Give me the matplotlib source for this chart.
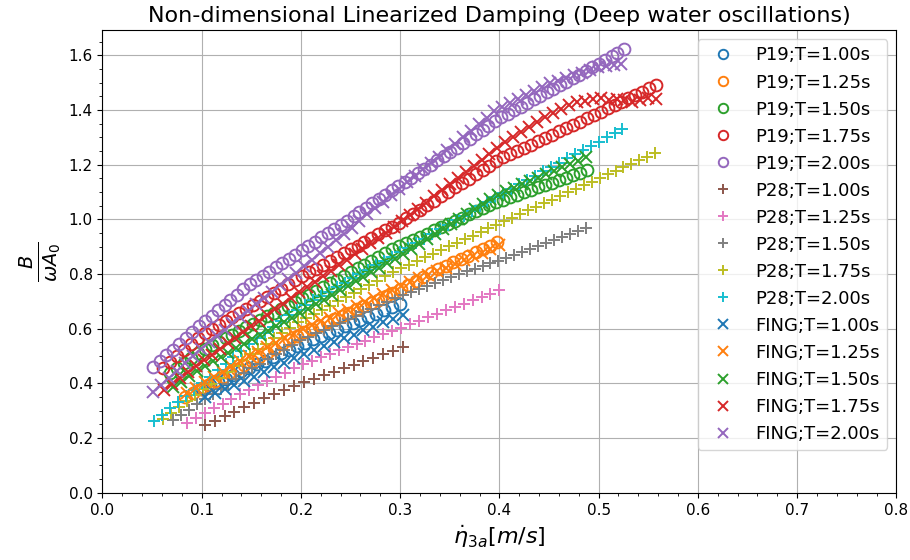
#!/usr/bin/env python3
"""
Non-dimensional linearized damping (deep water oscillations).

Compares the P19, P28 and FING data sets for five oscillation periods.
Saves the figure to out.png.
"""

import matplotlib
matplotlib.use('Agg')
import matplotlib.pyplot as plt

periods = ['1.00', '1.25', '1.50', '1.75', '2.00']

# ---------------------------------------------------------------- P19 (circles)
p19_x_100 = [0.100, 0.108, 0.116, 0.124, 0.132, 0.140, 0.148, 0.156, 0.164, 0.172, 0.180, 0.188, 0.196,
             0.204, 0.212, 0.220, 0.228, 0.236, 0.244, 0.252, 0.260, 0.268, 0.276, 0.284, 0.292, 0.300]
p19_y_100 = [0.380, 0.393, 0.406, 0.418, 0.431, 0.444, 0.457, 0.470, 0.483, 0.497, 0.510, 0.523, 0.536,
             0.549, 0.561, 0.573, 0.585, 0.597, 0.609, 0.620, 0.632, 0.644, 0.655, 0.667, 0.678, 0.690]

p19_x_125 = [0.083, 0.091, 0.098, 0.106, 0.113, 0.121, 0.128, 0.136, 0.143, 0.151, 0.158, 0.166, 0.173,
             0.181, 0.188, 0.196, 0.203, 0.211, 0.218, 0.226, 0.233, 0.241, 0.248, 0.256, 0.263, 0.271,
             0.278, 0.286, 0.293, 0.301, 0.308, 0.316, 0.323, 0.331, 0.338, 0.346, 0.353, 0.361, 0.368,
             0.376, 0.383, 0.391, 0.398]
p19_y_125 = [0.350, 0.365, 0.379, 0.394, 0.408, 0.423, 0.437, 0.452, 0.466, 0.481, 0.496, 0.512, 0.527,
             0.543, 0.559, 0.575, 0.587, 0.599, 0.611, 0.623, 0.635, 0.647, 0.659, 0.671, 0.684, 0.695,
             0.707, 0.719, 0.731, 0.746, 0.760, 0.774, 0.789, 0.803, 0.817, 0.831, 0.844, 0.856, 0.868,
             0.880, 0.892, 0.904, 0.916]

p19_x_150 = [0.068, 0.075, 0.082, 0.089, 0.096, 0.103, 0.110, 0.117, 0.124, 0.131, 0.138, 0.145, 0.152,
             0.159, 0.166, 0.173, 0.180, 0.187, 0.194, 0.201, 0.208, 0.215, 0.222, 0.229, 0.236, 0.243,
             0.250, 0.257, 0.264, 0.271, 0.278, 0.285, 0.292, 0.299, 0.306, 0.313, 0.320, 0.327, 0.334,
             0.341, 0.348, 0.355, 0.362, 0.369, 0.376, 0.383, 0.390, 0.397, 0.404, 0.411, 0.418, 0.425,
             0.432, 0.439, 0.446, 0.453, 0.460, 0.467, 0.474, 0.481, 0.488]
p19_y_150 = [0.440, 0.458, 0.476, 0.494, 0.512, 0.525, 0.539, 0.552, 0.565, 0.578, 0.592, 0.605, 0.618,
             0.632, 0.645, 0.658, 0.672, 0.685, 0.698, 0.712, 0.725, 0.739, 0.753, 0.767, 0.780, 0.794,
             0.808, 0.821, 0.835, 0.849, 0.862, 0.876, 0.890, 0.902, 0.913, 0.925, 0.937, 0.948, 0.960,
             0.971, 0.983, 0.995, 1.006, 1.018, 1.030, 1.041, 1.053, 1.063, 1.072, 1.081, 1.090, 1.099,
             1.108, 1.117, 1.126, 1.135, 1.144, 1.153, 1.162, 1.171, 1.180]

p19_x_175 = [0.061, 0.068, 0.075, 0.082, 0.089, 0.096, 0.103, 0.110, 0.117, 0.124, 0.131, 0.138, 0.145,
             0.152, 0.159, 0.166, 0.173, 0.180, 0.187, 0.194, 0.201, 0.208, 0.215, 0.222, 0.229, 0.236,
             0.243, 0.250, 0.257, 0.264, 0.271, 0.278, 0.285, 0.292, 0.299, 0.306, 0.313, 0.320, 0.327,
             0.334, 0.341, 0.348, 0.355, 0.362, 0.369, 0.376, 0.383, 0.390, 0.397, 0.404, 0.411, 0.418,
             0.425, 0.432, 0.439, 0.446, 0.453, 0.460, 0.467, 0.474, 0.481, 0.488, 0.495, 0.502, 0.509,
             0.516, 0.523, 0.530, 0.537, 0.544, 0.551, 0.558]
p19_y_175 = [0.455, 0.477, 0.500, 0.522, 0.545, 0.567, 0.586, 0.600, 0.614, 0.629, 0.643, 0.657, 0.672,
             0.686, 0.701, 0.716, 0.731, 0.746, 0.762, 0.777, 0.792, 0.806, 0.820, 0.834, 0.848, 0.862,
             0.876, 0.890, 0.904, 0.918, 0.932, 0.946, 0.960, 0.974, 0.988, 1.004, 1.020, 1.036, 1.052,
             1.068, 1.084, 1.100, 1.117, 1.133, 1.149, 1.165, 1.181, 1.197, 1.213, 1.227, 1.239, 1.251,
             1.263, 1.274, 1.286, 1.298, 1.310, 1.322, 1.334, 1.346, 1.358, 1.370, 1.382, 1.394, 1.406,
             1.418, 1.431, 1.443, 1.455, 1.467, 1.479, 1.491]

p19_x_200 = [0.051, 0.058, 0.064, 0.071, 0.077, 0.084, 0.090, 0.097, 0.103, 0.110, 0.116, 0.123, 0.129,
             0.136, 0.142, 0.149, 0.155, 0.162, 0.168, 0.175, 0.181, 0.188, 0.194, 0.201, 0.207, 0.214,
             0.220, 0.227, 0.233, 0.240, 0.246, 0.253, 0.259, 0.266, 0.272, 0.279, 0.285, 0.292, 0.298,
             0.305, 0.311, 0.318, 0.324, 0.331, 0.337, 0.344, 0.350, 0.357, 0.363, 0.370, 0.376, 0.383,
             0.389, 0.396, 0.402, 0.409, 0.415, 0.422, 0.428, 0.435, 0.441, 0.448, 0.454, 0.461, 0.467,
             0.474, 0.480, 0.487, 0.493, 0.500, 0.506, 0.513, 0.519, 0.526]
p19_y_200 = [0.460, 0.481, 0.503, 0.524, 0.545, 0.567, 0.588, 0.609, 0.629, 0.648, 0.667, 0.687, 0.706,
             0.725, 0.744, 0.764, 0.779, 0.794, 0.809, 0.825, 0.840, 0.856, 0.871, 0.887, 0.903, 0.918,
             0.934, 0.950, 0.965, 0.981, 0.996, 1.012, 1.028, 1.043, 1.059, 1.074, 1.090, 1.106, 1.121,
             1.137, 1.152, 1.168, 1.184, 1.200, 1.216, 1.232, 1.248, 1.263, 1.279, 1.295, 1.311, 1.327,
             1.343, 1.359, 1.374, 1.387, 1.400, 1.413, 1.426, 1.439, 1.452, 1.465, 1.478, 1.491, 1.504,
             1.517, 1.530, 1.543, 1.556, 1.569, 1.583, 1.596, 1.610, 1.624]

# ---------------------------------------------------------------- P28 (plus)
p28_x_100 = [0.103, 0.113, 0.123, 0.133, 0.143, 0.153, 0.163, 0.173, 0.183, 0.193, 0.203, 0.213, 0.223,
             0.233, 0.243, 0.253, 0.263, 0.273, 0.283, 0.293, 0.303]
p28_y_100 = [0.248, 0.264, 0.281, 0.297, 0.314, 0.330, 0.345, 0.361, 0.376, 0.392, 0.405, 0.418, 0.430,
             0.443, 0.456, 0.469, 0.482, 0.494, 0.507, 0.520, 0.533]

p28_x_125 = [0.085, 0.094, 0.103, 0.112, 0.121, 0.130, 0.139, 0.148, 0.157, 0.166, 0.175, 0.184, 0.193,
             0.202, 0.211, 0.220, 0.229, 0.238, 0.247, 0.256, 0.265, 0.274, 0.283, 0.292, 0.301, 0.310,
             0.319, 0.328, 0.337, 0.346, 0.355, 0.364, 0.373, 0.382, 0.391, 0.400]
p28_y_125 = [0.255, 0.273, 0.291, 0.309, 0.326, 0.343, 0.360, 0.377, 0.394, 0.409, 0.424, 0.440, 0.455,
             0.470, 0.483, 0.496, 0.508, 0.521, 0.534, 0.546, 0.557, 0.569, 0.581, 0.592, 0.604, 0.617,
             0.629, 0.642, 0.654, 0.667, 0.680, 0.692, 0.704, 0.716, 0.728, 0.740]

p28_x_150 = [0.071, 0.079, 0.087, 0.095, 0.103, 0.111, 0.119, 0.127, 0.135, 0.143, 0.151, 0.159, 0.167,
             0.175, 0.183, 0.191, 0.199, 0.207, 0.215, 0.223, 0.231, 0.239, 0.247, 0.255, 0.263, 0.271,
             0.279, 0.287, 0.295, 0.303, 0.311, 0.319, 0.327, 0.335, 0.343, 0.351, 0.359, 0.367, 0.375,
             0.383, 0.391, 0.399, 0.407, 0.415, 0.423, 0.431, 0.439, 0.447, 0.455, 0.463, 0.471, 0.479,
             0.487]
p28_y_150 = [0.265, 0.284, 0.304, 0.323, 0.342, 0.361, 0.380, 0.399, 0.418, 0.438, 0.455, 0.472, 0.489,
             0.506, 0.523, 0.541, 0.558, 0.571, 0.584, 0.597, 0.610, 0.622, 0.635, 0.648, 0.661, 0.674,
             0.687, 0.699, 0.712, 0.724, 0.735, 0.747, 0.758, 0.769, 0.780, 0.791, 0.801, 0.810, 0.820,
             0.830, 0.840, 0.849, 0.859, 0.870, 0.881, 0.892, 0.903, 0.914, 0.926, 0.937, 0.948, 0.959,
             0.970]

p28_x_175 = [0.061, 0.069, 0.077, 0.085, 0.093, 0.101, 0.109, 0.117, 0.125, 0.133, 0.141, 0.149, 0.157,
             0.165, 0.173, 0.181, 0.189, 0.197, 0.205, 0.213, 0.221, 0.229, 0.237, 0.245, 0.253, 0.261,
             0.269, 0.277, 0.285, 0.293, 0.301, 0.309, 0.317, 0.325, 0.333, 0.341, 0.349, 0.357, 0.365,
             0.373, 0.381, 0.389, 0.397, 0.405, 0.413, 0.421, 0.429, 0.437, 0.445, 0.453, 0.461, 0.469,
             0.477, 0.485, 0.493, 0.501, 0.509, 0.517, 0.525, 0.533, 0.541, 0.549, 0.557]
p28_y_175 = [0.270, 0.292, 0.313, 0.335, 0.356, 0.378, 0.399, 0.421, 0.443, 0.464, 0.486, 0.507, 0.527,
             0.546, 0.565, 0.584, 0.604, 0.623, 0.640, 0.655, 0.670, 0.685, 0.700, 0.716, 0.731, 0.746,
             0.761, 0.776, 0.792, 0.807, 0.822, 0.835, 0.848, 0.861, 0.874, 0.888, 0.901, 0.914, 0.927,
             0.940, 0.954, 0.967, 0.980, 0.993, 1.006, 1.020, 1.033, 1.046, 1.059, 1.072, 1.086, 1.099,
             1.112, 1.125, 1.138, 1.152, 1.165, 1.178, 1.191, 1.204, 1.217, 1.230, 1.243]

p28_x_200 = [0.052, 0.060, 0.068, 0.076, 0.084, 0.092, 0.100, 0.108, 0.116, 0.124, 0.132, 0.140, 0.148,
             0.156, 0.164, 0.172, 0.180, 0.188, 0.196, 0.204, 0.212, 0.220, 0.228, 0.236, 0.244, 0.252,
             0.260, 0.268, 0.276, 0.284, 0.292, 0.300, 0.308, 0.316, 0.324, 0.332, 0.340, 0.348, 0.356,
             0.364, 0.372, 0.380, 0.388, 0.396, 0.404, 0.412, 0.420, 0.428, 0.436, 0.444, 0.452, 0.460,
             0.468, 0.476, 0.484, 0.492, 0.500, 0.508, 0.516, 0.524]
p28_y_200 = [0.263, 0.286, 0.309, 0.331, 0.354, 0.377, 0.400, 0.424, 0.448, 0.472, 0.496, 0.520, 0.544,
             0.566, 0.586, 0.607, 0.628, 0.649, 0.670, 0.688, 0.704, 0.720, 0.736, 0.752, 0.768, 0.784,
             0.800, 0.816, 0.832, 0.848, 0.864, 0.880, 0.897, 0.914, 0.930, 0.947, 0.964, 0.981, 0.998,
             1.014, 1.031, 1.048, 1.065, 1.082, 1.098, 1.113, 1.129, 1.145, 1.160, 1.176, 1.191, 1.207,
             1.223, 1.238, 1.254, 1.269, 1.285, 1.300, 1.316, 1.331]

# ---------------------------------------------------------------- FING (x)
fing_x_100 = [0.103, 0.113, 0.123, 0.133, 0.143, 0.153, 0.163, 0.173, 0.183, 0.193, 0.203, 0.213, 0.223,
              0.233, 0.243, 0.253, 0.263, 0.273, 0.283, 0.293, 0.303]
fing_y_100 = [0.350, 0.365, 0.380, 0.395, 0.410, 0.425, 0.442, 0.459, 0.476, 0.493, 0.509, 0.523, 0.537,
              0.551, 0.565, 0.579, 0.594, 0.608, 0.623, 0.637, 0.652]

fing_x_125 = [0.085, 0.094, 0.103, 0.112, 0.121, 0.130, 0.139, 0.148, 0.157, 0.166, 0.175, 0.184, 0.193,
              0.202, 0.211, 0.220, 0.229, 0.238, 0.247, 0.256, 0.265, 0.274, 0.283, 0.292, 0.301, 0.310,
              0.319, 0.328, 0.337, 0.346, 0.355, 0.364, 0.373, 0.382, 0.391, 0.400]
fing_y_125 = [0.365, 0.385, 0.404, 0.424, 0.443, 0.463, 0.483, 0.500, 0.516, 0.533, 0.549, 0.566, 0.582,
              0.598, 0.613, 0.627, 0.641, 0.656, 0.670, 0.685, 0.699, 0.713, 0.728, 0.742, 0.757, 0.770,
              0.784, 0.797, 0.811, 0.824, 0.838, 0.851, 0.865, 0.878, 0.892, 0.905]

fing_x_150 = [0.071, 0.079, 0.087, 0.095, 0.103, 0.111, 0.119, 0.127, 0.135, 0.143, 0.151, 0.159, 0.167,
              0.175, 0.183, 0.191, 0.199, 0.207, 0.215, 0.223, 0.231, 0.239, 0.247, 0.255, 0.263, 0.271,
              0.279, 0.287, 0.295, 0.303, 0.311, 0.319, 0.327, 0.335, 0.343, 0.351, 0.359, 0.367, 0.375,
              0.383, 0.391, 0.399, 0.407, 0.415, 0.423, 0.431, 0.439, 0.447, 0.455, 0.463, 0.471, 0.479,
              0.487]
fing_y_150 = [0.387, 0.407, 0.427, 0.447, 0.465, 0.481, 0.497, 0.513, 0.529, 0.545, 0.561, 0.577, 0.593,
              0.609, 0.625, 0.641, 0.658, 0.674, 0.691, 0.707, 0.724, 0.740, 0.756, 0.773, 0.789, 0.806,
              0.822, 0.839, 0.855, 0.875, 0.893, 0.911, 0.929, 0.947, 0.965, 0.983, 1.001, 1.019, 1.037,
              1.055, 1.073, 1.091, 1.103, 1.116, 1.128, 1.141, 1.153, 1.165, 1.178, 1.190, 1.203, 1.215,
              1.227]

fing_x_175 = [0.062, 0.070, 0.078, 0.086, 0.094, 0.102, 0.110, 0.118, 0.126, 0.134, 0.142, 0.150, 0.158,
              0.166, 0.174, 0.182, 0.190, 0.198, 0.206, 0.214, 0.222, 0.230, 0.238, 0.246, 0.254, 0.262,
              0.270, 0.278, 0.286, 0.294, 0.302, 0.310, 0.318, 0.326, 0.334, 0.342, 0.350, 0.358, 0.366,
              0.374, 0.382, 0.390, 0.398, 0.406, 0.414, 0.422, 0.430, 0.438, 0.446, 0.454, 0.462, 0.470,
              0.478, 0.486, 0.494, 0.502, 0.510, 0.518, 0.526, 0.534, 0.542, 0.550, 0.558]
fing_y_175 = [0.375, 0.397, 0.419, 0.441, 0.463, 0.484, 0.505, 0.526, 0.547, 0.567, 0.588, 0.609, 0.630,
              0.651, 0.672, 0.692, 0.713, 0.734, 0.752, 0.772, 0.792, 0.812, 0.832, 0.852, 0.872, 0.892,
              0.912, 0.932, 0.952, 0.972, 0.994, 1.016, 1.039, 1.061, 1.084, 1.106, 1.128, 1.151, 1.173,
              1.196, 1.218, 1.240, 1.263, 1.283, 1.302, 1.320, 1.338, 1.357, 1.375, 1.391, 1.405, 1.418,
              1.428, 1.434, 1.440, 1.444, 1.438, 1.442, 1.436, 1.430, 1.438, 1.445, 1.440]

fing_x_200 = [0.051, 0.059, 0.067, 0.075, 0.083, 0.091, 0.099, 0.107, 0.115, 0.123, 0.131, 0.139, 0.147,
              0.155, 0.163, 0.171, 0.179, 0.187, 0.195, 0.203, 0.211, 0.219, 0.227, 0.235, 0.243, 0.251,
              0.259, 0.267, 0.275, 0.283, 0.291, 0.299, 0.307, 0.315, 0.323, 0.331, 0.339, 0.347, 0.355,
              0.363, 0.371, 0.379, 0.387, 0.395, 0.403, 0.411, 0.419, 0.427, 0.435, 0.443, 0.451, 0.459,
              0.467, 0.475, 0.483, 0.491, 0.499, 0.507, 0.515, 0.523]
fing_y_200 = [0.368, 0.394, 0.421, 0.447, 0.474, 0.500, 0.527, 0.550, 0.573, 0.596, 0.620, 0.643, 0.666,
              0.689, 0.712, 0.736, 0.759, 0.782, 0.805, 0.829, 0.852, 0.876, 0.900, 0.923, 0.947, 0.970,
              0.994, 1.018, 1.041, 1.065, 1.088, 1.112, 1.136, 1.159, 1.183, 1.206, 1.230, 1.254, 1.277,
              1.301, 1.324, 1.348, 1.372, 1.395, 1.413, 1.427, 1.441, 1.456, 1.470, 1.485, 1.499, 1.508,
              1.518, 1.527, 1.537, 1.546, 1.556, 1.560, 1.565, 1.568]


def plot_damping(output_file='out.png'):
    """Scatter all data sets against the heave velocity amplitude."""
    groups = [
        ('P19', 'o', [p19_x_100, p19_x_125, p19_x_150, p19_x_175, p19_x_200],
                     [p19_y_100, p19_y_125, p19_y_150, p19_y_175, p19_y_200]),
        ('P28', '+', [p28_x_100, p28_x_125, p28_x_150, p28_x_175, p28_x_200],
                     [p28_y_100, p28_y_125, p28_y_150, p28_y_175, p28_y_200]),
        ('FING', 'x', [fing_x_100, fing_x_125, fing_x_150, fing_x_175, fing_x_200],
                      [fing_y_100, fing_y_125, fing_y_150, fing_y_175, fing_y_200]),
    ]

    fig = plt.figure(figsize=(9.1, 5.6), dpi=100)
    ax = fig.add_axes([0.1126, 0.120, 0.8724, 0.826])

    for name, marker, xs, ys in groups:
        for period, x, y in zip(periods, xs, ys):
            style = {'mfc': 'none'} if marker == 'o' else {}
            ax.plot(x, y, marker, ms=8.5, mew=1.4, linestyle='none',
                    label=f'{name};T={period}s', **style)

    ax.set_xlim(0, 0.8)
    ax.set_ylim(0, 1.692)
    ax.minorticks_on()
    ax.grid(True, which='major')
    ax.tick_params(labelsize=11)

    ax.set_title('Non-dimensional Linearized Damping (Deep water oscillations)', fontsize=16)
    ax.set_xlabel(r'$\dot{\eta}_{3a} [m/s]$', fontsize=16)
    ax.set_ylabel(r'$\frac{B}{\omega A_0}$', fontsize=20)
    ax.legend(loc='upper right', fontsize=13, labelspacing=0.5, markerscale=0.8)

    fig.savefig(output_file, dpi=100)
    plt.close(fig)
    print(f"Plot saved to: {output_file}")


if __name__ == '__main__':
    plot_damping()
